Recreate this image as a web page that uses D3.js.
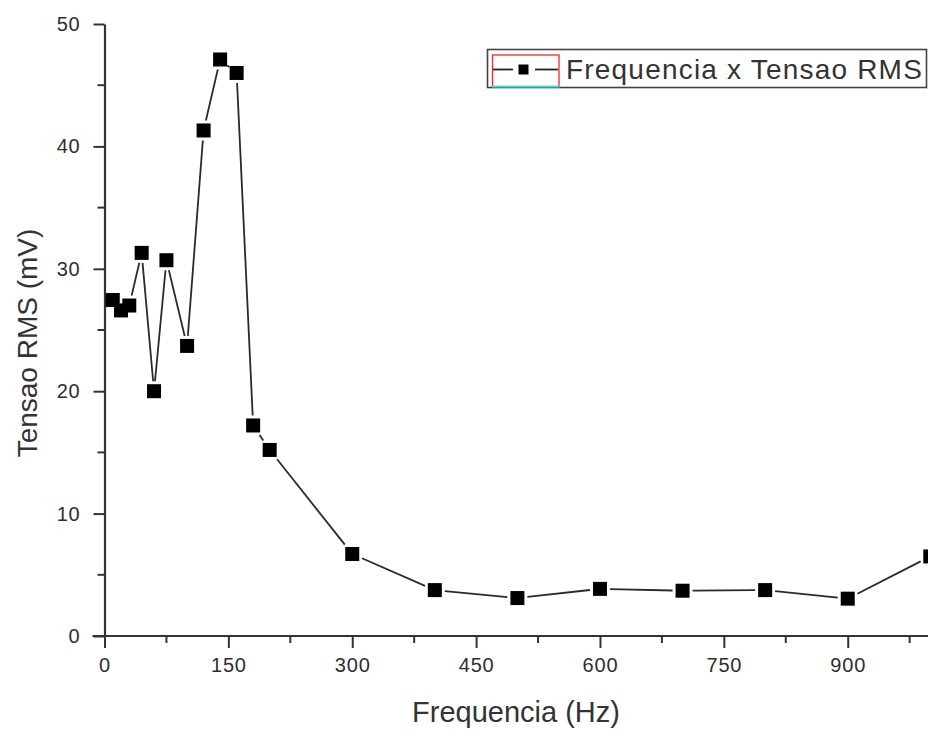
<!DOCTYPE html>
<html>
<head>
<meta charset="utf-8">
<script src="https://cdn.jsdelivr.net/npm/d3@7"></script>
<style>
  body { margin: 0; background: #fff; }
  svg { display: block; }
  .tick text { font-family: 'Liberation Sans', Arial, sans-serif; fill: #2e2e2e; }
</style>
</head>
<body>
<div id="chart"></div>
<script>
// data
const freqs = [10, 20, 30, 45, 60, 75, 100, 120, 140, 160, 180, 200, 300, 400, 500, 600, 700, 800, 900, 1000]
const tensao = [27.45, 26.6, 27.0, 31.3, 20.0, 30.7, 23.7, 41.3, 47.1, 46.0, 17.2, 15.2, 6.7, 3.75, 3.1, 3.85, 3.7, 3.75, 3.05, 6.5]
const xTicks = [0, 150, 300, 450, 600, 750, 900]
const yTicks = [0, 10, 20, 30, 40, 50]
const seriesName = 'Frequencia x Tensao RMS'

const width = 928
const height = 731
const ink = '#333'

const svg = d3.select('#chart').append('svg')
  .attr('width', width)
  .attr('height', height)

const x = d3.scaleLinear().domain([0, 1050]).range([104.5, 971.6])
const y = d3.scaleLinear().domain([0, 50]).range([636, 24])

// minor ticks
const xMinor = d3.range(75, 1050, 150)
const yMinor = d3.range(5, 50, 10)

const xAxis = svg.append('g')
  .attr('transform', `translate(0, ${y(0)})`)
  .call(d3.axisBottom(x).tickValues(xTicks).tickSize(12).tickPadding(10).tickSizeOuter(0))
xAxis.append('g').selectAll('line').data(xMinor).join('line')
  .attr('x1', d => x(d)).attr('x2', d => x(d))
  .attr('y1', 0).attr('y2', 7)
xAxis.select('.domain').attr('d', `M${x(0) - 12},0H${x(1050)}`)

const yAxis = svg.append('g')
  .attr('transform', `translate(${x(0)}, 0)`)
  .call(d3.axisLeft(y).tickValues(yTicks).tickSize(11).tickPadding(13).tickSizeOuter(0))
yAxis.append('g').selectAll('line').data(yMinor).join('line')
  .attr('x1', -7).attr('x2', 0)
  .attr('y1', d => y(d)).attr('y2', d => y(d))

svg.selectAll('.domain').attr('stroke', ink).attr('stroke-width', 2.2)
svg.selectAll('.tick line').attr('stroke', ink).attr('stroke-width', 2)
xAxis.selectAll('g > line').attr('stroke', ink).attr('stroke-width', 2)
yAxis.selectAll('g > line').attr('stroke', ink).attr('stroke-width', 2)
svg.selectAll('.tick text').attr('font-size', 20).attr('letter-spacing', 0.8)

// axis titles
svg.append('text')
  .attr('x', 516)
  .attr('y', 722)
  .attr('text-anchor', 'middle')
  .attr('font-family', "'Liberation Sans', Arial, sans-serif")
  .attr('font-size', 29)
  .attr('fill', ink)
  .text('Frequencia (Hz)')

svg.append('text')
  .attr('transform', 'translate(37, 343) rotate(-90)')
  .attr('text-anchor', 'middle')
  .attr('font-family', "'Liberation Sans', Arial, sans-serif")
  .attr('font-size', 28)
  .attr('fill', ink)
  .text('Tensao RMS (mV)')

// line segments stop a little short of the markers
const pts = freqs.map((f, i) => [x(f), y(tensao[i])])
const half = 7
const gap = 3
const cut = (dx, dy) => half / Math.max(Math.abs(dx), Math.abs(dy)) + gap

const segs = d3.pairs(pts).map(([a, b]) => {
  const len = Math.hypot(b[0] - a[0], b[1] - a[1])
  const ux = (b[0] - a[0]) / len
  const uy = (b[1] - a[1]) / len
  const c = cut(ux, uy)
  return [a[0] + ux * c, a[1] + uy * c, b[0] - ux * c, b[1] - uy * c]
})

svg.append('g').selectAll('line').data(segs).join('line')
  .attr('x1', d => d[0]).attr('y1', d => d[1])
  .attr('x2', d => d[2]).attr('y2', d => d[3])
  .attr('stroke', '#2a2a2a')
  .attr('stroke-width', 1.8)

svg.append('g').selectAll('rect').data(pts).join('rect')
  .attr('x', d => d[0] - half)
  .attr('y', d => d[1] - half)
  .attr('width', half * 2)
  .attr('height', half * 2)
  .attr('fill', '#000')

// legend
const leg = svg.append('g')
leg.append('rect')
  .attr('x', 487.5).attr('y', 49.5)
  .attr('width', 439).attr('height', 38)
  .attr('fill', '#fff')
  .attr('stroke', '#444')
  .attr('stroke-width', 1.6)
leg.append('rect')
  .attr('x', 492.5).attr('y', 55)
  .attr('width', 66.5).attr('height', 31.5)
  .attr('fill', 'none')
  .attr('stroke', '#f22')
  .attr('stroke-width', 1.3)
leg.append('line')
  .attr('x1', 492).attr('x2', 559.5)
  .attr('y1', 86.6).attr('y2', 86.6)
  .attr('stroke', '#2ee')
  .attr('stroke-width', 1.6)
leg.append('line')
  .attr('x1', 493).attr('x2', 513)
  .attr('y1', 69.5).attr('y2', 69.5)
  .attr('stroke', '#222').attr('stroke-width', 1.8)
leg.append('line')
  .attr('x1', 535).attr('x2', 558)
  .attr('y1', 69.5).attr('y2', 69.5)
  .attr('stroke', '#222').attr('stroke-width', 1.8)
leg.append('rect')
  .attr('x', 518.5).attr('y', 64.5)
  .attr('width', 10).attr('height', 10)
  .attr('fill', '#000')
leg.append('text')
  .attr('x', 566)
  .attr('y', 79)
  .attr('font-family', "'Liberation Sans', Arial, sans-serif")
  .attr('font-size', 28)
  .attr('letter-spacing', 1.2)
  .attr('fill', ink)
  .text(seriesName)
</script>
</body>
</html>
